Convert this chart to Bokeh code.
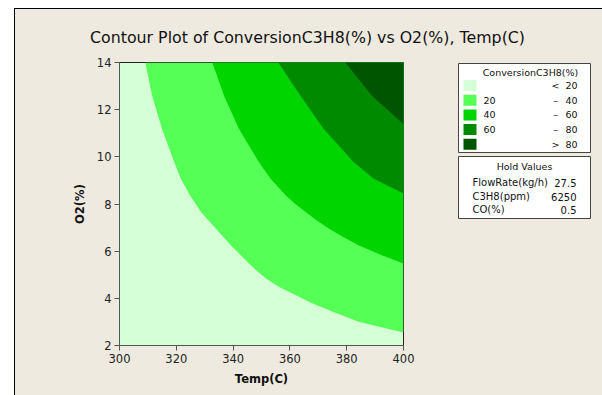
from bokeh.plotting import figure
from bokeh.layouts import column, row
from bokeh.models import Range1d, FixedTicker
from bokeh.core.properties import value
from bokeh.embed import file_html
from bokeh.resources import INLINE

# ---------------- data ----------------
temp_ticks = [300, 320, 340, 360, 380, 400]
o2_ticks = [2, 4, 6, 8, 10, 12, 14]

# contour boundaries (Temp, O2) for the levels 20, 40, 60, 80
b20_temp = [309.1, 311.5, 315.0, 319.3, 321.6, 324.8, 328.7, 333.9, 339.2, 345.0, 348.0,
            351.5, 356.1, 362.0, 367.8, 374.9, 384.2, 400.0]
b20_o2 = [14.0, 12.59, 11.18, 9.77, 9.07, 8.37, 7.66, 6.96, 6.25, 5.55, 5.2,
          4.85, 4.49, 4.14, 3.79, 3.44, 3.01, 2.55]
b40_temp = [332.7, 336.8, 342.1, 349.1, 353.2, 358.5, 361.8, 365.5, 369.4, 373.7, 378.6,
            384.2, 392.4, 400.0]
b40_o2 = [14.0, 12.59, 11.18, 9.77, 9.07, 8.37, 8.01, 7.66, 7.31, 6.96, 6.61,
          6.25, 5.83, 5.48]
b60_temp = [355.9, 363.7, 371.9, 382.5, 389.5, 400.0]
b60_o2 = [14.0, 12.59, 11.18, 9.77, 9.07, 8.44]
b80_temp = [379.5, 388.9, 400.0]
b80_o2 = [14.0, 12.59, 11.39]

level_colors = ["#D5FFD5", "#55FF55", "#00D500", "#008A00", "#005500"]
level_low = ["", "20", "40", "60", ""]
level_sym = ["<", "\u2013", "\u2013", "\u2013", ">"]
level_high = ["20", "40", "60", "80", "80"]
legend_title = "ConversionC3H8(%)"
hold_title = "Hold Values"
hold_names = ["FlowRate(kg/h)", "C3H8(ppm)", "CO(%)"]
hold_values = ["27.5", "6250", "0.5"]

title_text = "Contour Plot of ConversionC3H8(%) vs O2(%), Temp(C)"

# ---------------- layout ----------------
BG = "#EEEAE0"
FONT = "DejaVu Sans"
TXT = "#111111"

X0, Y0 = 15, 9          # page position where the drawing starts
TOTAL_W, TOTAL_H = 587, 386
TITLE_H = 45
MAIN_W = 425
LEG_W = TOTAL_W - MAIN_W
BODY_H = TOTAL_H - TITLE_H
FL, FW, FH = 104, 284, 283
FT = 62 - (Y0 + TITLE_H)          # frame top on the page at y = 62
FB = BODY_H - FT - FH
FR = MAIN_W - FL - FW


def pixel_fig(x0, y0, w, h, top=0, bottom=0):
    """A figure whose data coordinates are page pixels (y downwards)."""
    f = figure(width=w, height=h, x_range=Range1d(x0, x0 + w),
               y_range=Range1d(y0 + h - bottom, y0 + top),
               output_backend="svg", toolbar_location=None, title=None,
               x_axis_type=None, y_axis_type=None,
               min_border_left=0, min_border_right=0,
               min_border_top=top, min_border_bottom=bottom,
               background_fill_color=BG, border_fill_color=BG, outline_line_color=None)
    f.grid.visible = False
    return f


# title strip
t = pixel_fig(X0, Y0, TOTAL_W, TITLE_H)
t.text(x=[307], y=[36.5], text=[title_text], text_align="center", text_baseline="middle",
       text_font=value(FONT), text_font_size="15.8px", text_color=TXT)

# main contour plot
x_min, x_max = temp_ticks[0], temp_ticks[-1]
y_min, y_max = o2_ticks[0], o2_ticks[-1]

p = figure(width=MAIN_W, height=BODY_H, title=None,
           x_range=Range1d(x_min, x_max), y_range=Range1d(y_min, y_max),
           output_backend="svg", toolbar_location=None,
           min_border_left=FL, min_border_right=FR,
           min_border_top=FT, min_border_bottom=FB,
           background_fill_color=level_colors[0],
           border_fill_color=BG, outline_line_color="#222222")

boundaries = [(b20_temp, b20_o2), (b40_temp, b40_o2),
              (b60_temp, b60_o2), (b80_temp, b80_o2)]
for (bt, bo), col in zip(boundaries, level_colors[1:]):
    p.patch(bt + [x_max], bo + [y_max], fill_color=col, line_color=None)

p.grid.visible = False
p.xaxis.ticker = FixedTicker(ticks=temp_ticks)
p.yaxis.ticker = FixedTicker(ticks=o2_ticks)
for ax in (p.xaxis, p.yaxis):
    ax.minor_tick_line_color = None
    ax.major_tick_in = 0
    ax.major_tick_out = 5
    ax.axis_line_color = "#555555"
    ax.major_tick_line_color = "#555555"
    ax.major_label_text_font = FONT
    ax.major_label_text_font_size = "11.5px"
    ax.major_label_text_color = "#222222"
    ax.axis_label_text_font = FONT
    ax.axis_label_text_font_size = "11.5px"
    ax.axis_label_text_font_style = "bold"
    ax.axis_label_text_color = TXT
    ax.major_label_standoff = 3
p.xaxis.axis_label = "Temp(C)"
p.yaxis.axis_label = "O2(%)"
p.xaxis.axis_label_standoff = 6
p.yaxis.axis_label_standoff = 7

# legend panel (page-pixel coordinates, frame aligned with the plot frame)
lg = pixel_fig(X0 + MAIN_W, Y0 + TITLE_H, LEG_W, BODY_H, top=FT, bottom=FB)
BOX_L, BOX_R = 458, 590
lg.quad(left=[BOX_L, BOX_L], right=[BOX_R, BOX_R], top=[63, 156], bottom=[152, 218],
        fill_color="white", line_color="#444444", line_width=1)
lg.text(x=[530], y=[72], text=[legend_title], text_align="center", text_baseline="middle",
        text_font=value(FONT), text_font_size="9.5px", text_color=TXT)

ROW0, STEP = 85, 14.7
row_y = [ROW0 + i * STEP for i in range(len(level_colors))]
lg.quad(left=[463] * len(row_y), right=[476] * len(row_y),
        top=[y - 5.5 for y in row_y], bottom=[y + 5.5 for y in row_y],
        fill_color=level_colors, line_color=None)
for xpos, texts, align in [(483, level_low, "left"), (555, level_sym, "center"), (577, level_high, "right")]:
    lg.text(x=[xpos] * len(row_y), y=row_y, text=texts, text_align=align, text_baseline="middle",
            text_font=value(FONT), text_font_size="9.5px", text_color=TXT)

lg.text(x=[524], y=[166], text=[hold_title], text_align="center", text_baseline="middle",
        text_font=value(FONT), text_font_size="9.5px", text_color=TXT)
hold_y = [182, 196, 209]
lg.text(x=[472] * 3, y=hold_y, text=hold_names, text_align="left", text_baseline="middle",
        text_font=value(FONT), text_font_size="10px", text_color=TXT)
lg.text(x=[576] * 3, y=hold_y, text=hold_values, text_align="right", text_baseline="middle",
        text_font=value(FONT), text_font_size="10px", text_color=TXT)

layout = column(t, row(p, lg))
layout.styles = {"margin-left": "14px", "margin-top": "8px",
                 "border-left": "1px solid black", "border-top": "1px solid black",
                 "background-color": BG}

open("out.html", "w").write(file_html(layout, INLINE))
